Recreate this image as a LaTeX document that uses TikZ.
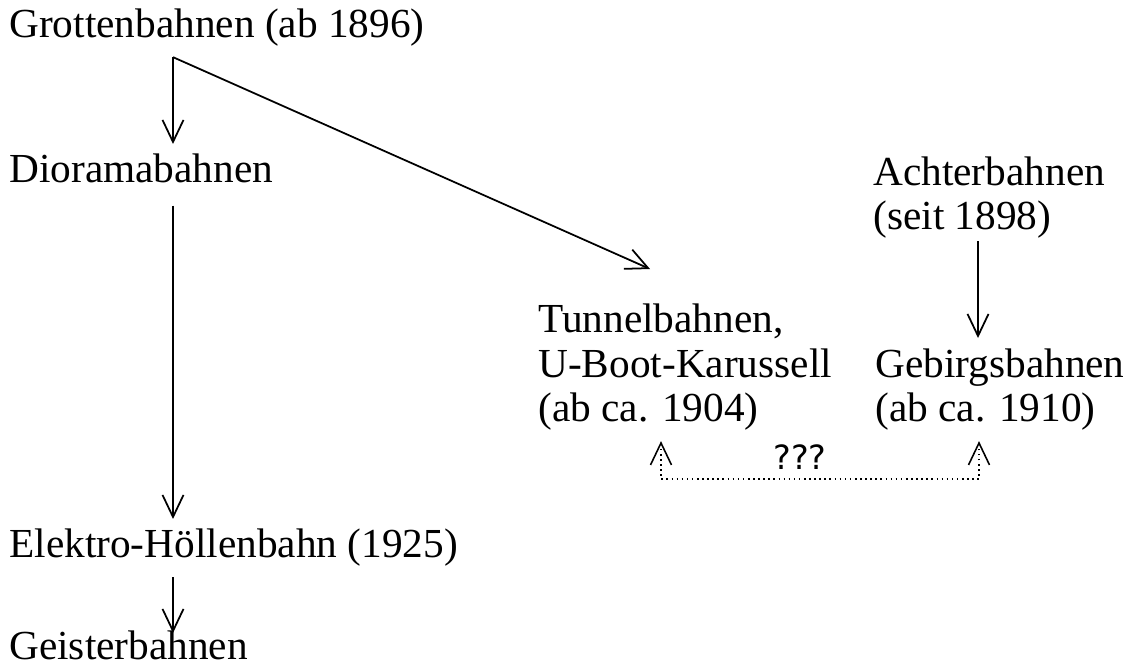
\documentclass[tikz,border=0pt]{standalone}
\usepackage{fontspec}
\setmainfont{Liberation Serif}
\newfontfamily\qfont{DejaVu Sans}
\usetikzlibrary{arrows.meta}

\begin{document}
\begin{tikzpicture}[>={Straight Barb[length=0.44cm,width=0.42cm]},
    lbl/.style={anchor=base west,inner xsep=0pt,inner ysep=0.2cm,align=left,
      font=\fontsize{23.5pt}{25.6pt}\selectfont},
    arr/.style={->,line width=1pt},
    dotarr/.style={<->,line width=0.9pt,dotted}]
  \useasboundingbox (0,0) rectangle (22.64,13.34);
  \node[lbl] (grotten) at (0.18,12.58) {Grottenbahnen (ab 1896)};
  \node[lbl] (dio) at (0.18,9.68) {Dioramabahnen};
  \node[lbl] (elektro) at (0.18,2.18) {Elektro-Höllenbahn (1925)};
  \node[lbl] (geister) at (0.18,0.14) {Geisterbahnen};
  \node[lbl] (achter) at (17.46,8.74) {Achterbahnen\\(seit 1898)};
  \node[lbl] (tunnel) at (10.76,4.90) {Tunnelbahnen,\\U-Boot-Karussell\\(ab ca. 1904)};
  \node[lbl] (gebirg) at (17.50,4.90) {Gebirgsbahnen\\(ab ca. 1910)};
  \coordinate (split) at ([xshift=3.28cm]grotten.south west);
  \coordinate (tunneltip) at ([xshift=2.24cm,yshift=0.48cm]tunnel.north west);
  \draw[arr] (split) -- (split |- dio.north);
  \draw[arr] (split) -- (tunneltip);
  \draw[arr,shorten <=0.24cm] (dio.south -| split) -- (elektro.north -| split);
  \draw[arr,shorten >=-0.24cm] (elektro.south -| split) -- (geister.north -| split);
  \draw[arr,shorten <=-0.16cm] ([xshift=2.1cm]achter.south west) -- ([xshift=2.1cm]achter.south west |- gebirg.north);
  \draw[dotarr] ([xshift=2.46cm]tunnel.south west) -- ++(0,-0.76) -| ([xshift=2.08cm]gebirg.south west);
  \node[font=\qfont\fontsize{19pt}{19pt}\selectfont,inner sep=0pt] (unknown) at (16.0,4.2) {???};
\end{tikzpicture}
\end{document}
